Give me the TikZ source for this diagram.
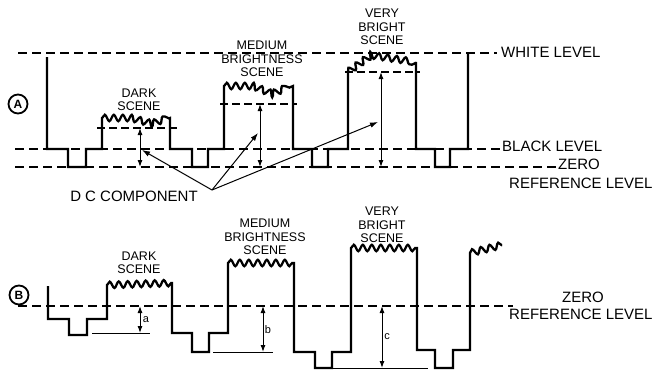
\documentclass[tikz,border=0pt]{standalone}
\usepackage{fontspec}
\setmainfont{Liberation Sans}
\usetikzlibrary{arrows.meta, decorations.pathmorphing}

\tikzset{
    % Waveform styles
    signal/.style={
        line width=2.3pt,
        line join=miter
    },
    noisy/.style={
        decoration={snake, segment length=9pt, amplitude=3.2pt}
    },
    % Level line styles
    levelline/.style={
        dash pattern=on 9pt off 5pt,
        line width=1.3pt
    },
    avgline/.style={
        dash pattern=on 8pt off 4pt,
        line width=1.1pt
    },
    % Arrow styles
    dimarrow/.style={
        <->,
        >={Latex[length=7pt,width=5pt]},
        line width=1pt
    },
    dcarrow/.style={
        ->,
        >={Latex[length=8pt,width=5.5pt]},
        line width=1pt
    },
    refline/.style={
        line width=1pt
    },
    % Text styles
    scenelabel/.style={
        align=center,
        inner sep=0pt,
        font=\fontsize{12.5}{13.5}\selectfont
    },
    levellabel/.style={
        anchor=west,
        inner sep=0pt,
        font=\fontsize{15}{17}\selectfont
    },
    letterlabel/.style={
        inner sep=0pt,
        font=\fontsize{11}{12}\selectfont
    },
    panelmark/.style={
        circle,
        draw,
        line width=1.8pt,
        inner sep=0pt,
        minimum size=19pt,
        font=\fontsize{12}{12}\selectfont\bfseries
    }
}

\begin{document}
\begin{tikzpicture}[x=1pt, y=-1pt]
    \useasboundingbox (0,0) rectangle (658,370);

    % ---------------- Panel A ----------------
    \node[panelmark] (markA) at (18,104) {A};

    % Levels
    \draw[levelline] (18,53) -- (497,53);
    \draw[levelline] (15,149) -- (500,149);
    \draw[levelline] (15,167) -- (557,167);
    \node[levellabel] (white) at (501,52) {WHITE LEVEL};
    \node[levellabel] (black) at (502,146) {BLACK LEVEL};
    \node[levellabel] (zeroA) at (558,164) {ZERO};
    \node[levellabel] (refA) at (509,183) {REFERENCE LEVEL};

    % Waveform
    \draw[signal] (47,57) -- (47,149) -- (68,149) -- (68,167) -- (86,167) -- (86,149)
        -- (102,149) -- (102,118) decorate[noisy] {-- (130,118) -- (152,124) -- (170,118)}
        -- (170,149) -- (192,149) -- (192,167) -- (208,167) -- (208,149)
        -- (224,149) -- (224,86) decorate[noisy] {-- (250,86) -- (272,95) -- (293,86)}
        -- (293,149) -- (312,149) -- (312,167) -- (328,167) -- (328,149)
        -- (348,149) -- (348,72) decorate[noisy] {-- (370,56) -- (416,63)}
        -- (416,149) -- (435,149) -- (435,167) -- (450,167) -- (450,149)
        -- (468,149) -- (468,53);

    % Average levels
    \draw[avgline] (97,128) -- (178,128);
    \draw[avgline] (220,104) -- (297,104);
    \draw[avgline] (345,72) -- (420,72);

    \node[scenelabel] (darkA) at (139,100) {DARK\\SCENE};
    \node[scenelabel] (mediumA) at (262,59) {MEDIUM\\BRIGHTNESS\\SCENE};
    \node[scenelabel] (brightA) at (382,27) {VERY\\BRIGHT\\SCENE};

    % DC arrows
    \coordinate (darktop) at (140,128);
    \coordinate (darkzero) at (140,167);
    \coordinate (medtop) at (260,104);
    \coordinate (medzero) at (260,167);
    \coordinate (brighttop) at (381,72);
    \coordinate (brightzero) at (381,167);
    \draw[dimarrow] (darktop) -- (darkzero);
    \draw[dimarrow] (medtop) -- (medzero);
    \draw[dimarrow] (brighttop) -- (brightzero);

    % DC component pointers
    \node[font=\fontsize{15}{17}\selectfont, inner sep=0pt] (dc) at (134,196) {D C COMPONENT};
    \coordinate (dcjoin) at (212,190);
    \coordinate (dcdark) at (142,150);
    \coordinate (dcmed) at (258,133);
    \coordinate (dcbright) at (378,122);
    \draw[dcarrow] (dcjoin) -- (dcdark);
    \draw[dcarrow] (dcjoin) -- (dcmed);
    \draw[dcarrow] (dcjoin) -- (dcbright);

    % ---------------- Panel B ----------------
    \node[panelmark] (markB) at (19,295) {B};

    % Zero level
    \draw[levelline] (18,306) -- (513,306);
    \node[levellabel] (zeroB) at (562,297) {ZERO};
    \node[levellabel] (refB) at (509,314) {REFERENCE LEVEL};

    % Waveform
    \draw[signal] (48,286) -- (48,319) -- (69,319) -- (69,335) -- (87,335) -- (87,319)
        -- (107,319) -- (107,285) decorate[noisy] {-- (172,283)}
        -- (172,333) -- (192,333) -- (192,352) -- (209,352) -- (209,333)
        -- (228,333) -- (228,263) decorate[noisy] {-- (294,263)}
        -- (294,352) -- (315,352) -- (315,368) -- (332,368) -- (332,352)
        -- (351,352) -- (351,248) decorate[noisy] {-- (417,248)}
        -- (417,350) -- (435,350) -- (435,368) -- (453,368) -- (453,350)
        -- (470,350) -- (470,253) decorate[noisy] {-- (502,245)};

    \node[scenelabel] (darkB) at (139,263) {DARK\\SCENE};
    \node[scenelabel] (mediumB) at (265,237) {MEDIUM\\BRIGHTNESS\\SCENE};
    \node[scenelabel] (brightB) at (382,225) {VERY\\BRIGHT\\SCENE};

    % Offsets from zero
    \coordinate (azero) at (140,306);
    \coordinate (abot) at (140,333);
    \coordinate (bzero) at (263,306);
    \coordinate (bbot) at (263,352);
    \coordinate (czero) at (382,306);
    \coordinate (cbot) at (382,368);
    \draw[refline] (92,333) -- (150,333);
    \draw[refline] (213,352) -- (273,352);
    \draw[refline] (333,368.5) -- (428,368.5);
    \draw[dimarrow] (azero) -- (abot);
    \draw[dimarrow] (bzero) -- (bbot);
    \draw[dimarrow] (czero) -- (cbot);
    \node[letterlabel] (la) at (146,320) {a};
    \node[letterlabel] (lb) at (268,330) {b};
    \node[letterlabel] (lc) at (387,337) {c};
\end{tikzpicture}
\end{document}
